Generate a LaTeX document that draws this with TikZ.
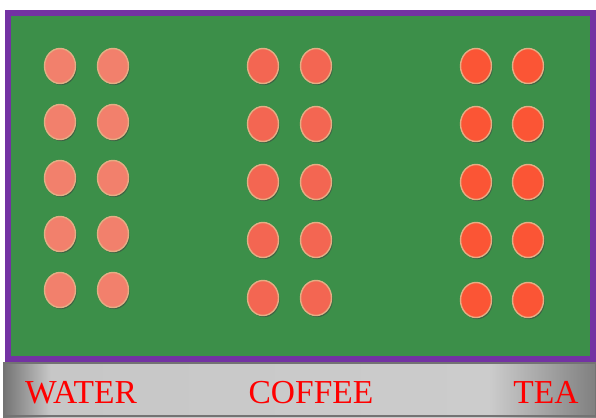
\documentclass[tikz,border=0pt]{standalone}
\usepackage{fontspec}
\setmainfont{Liberation Serif}
\usepackage{xcolor}
\usetikzlibrary{shapes.geometric,shadows}

\definecolor{boardgreen}{HTML}{3C8F49}
\definecolor{framepurple}{HTML}{7332A3}
\definecolor{rimtan}{HTML}{E3AE84}
\definecolor{waterdot}{HTML}{F2806C}
\definecolor{coffeedot}{HTML}{F36652}
\definecolor{teadot}{HTML}{FB5535}

\pgfdeclarehorizontalshading{barshade}{100bp}{
  color(0bp)=(black!55); color(25bp)=(black!55); color(29bp)=(black!22);
  color(66bp)=(black!20); color(75bp)=(black!50); color(100bp)=(black!50)}

\tikzset{
  dot/.style={ellipse,minimum width=31pt,minimum height=35pt,inner sep=0pt,
    draw=rimtan,line width=1.4pt,
    drop shadow={shadow xshift=1.2pt,shadow yshift=-1.6pt,opacity=0.55,fill=black!75}},
  label/.style={anchor=base,text=red,font=\fontsize{33.5}{38}\selectfont}
}

\begin{document}
\begin{tikzpicture}[x=1pt,y=-1pt]
  \useasboundingbox (0,0) rectangle (596,417);
  \fill[white] (0,0) rectangle (596,417);

  % board
  \draw[framepurple,line width=6pt,fill=boardgreen] (8,13) rectangle (593,359);

  % label bar
  \shade[shading=barshade] (3,362) rectangle (596,417);
  \draw[black!55,line width=1.5pt] (4,363) rectangle (596,416);

  % dots
  \foreach \y [count=\i] in {66,122,178,234,290} {
    \node[dot,fill=waterdot] (w\i a) at (60,\y) {};
    \node[dot,fill=waterdot] (w\i b) at (113,\y) {};
  }
  \foreach \y [count=\i] in {66,124,182,240,298} {
    \node[dot,fill=coffeedot] (c\i a) at (263,\y) {};
    \node[dot,fill=coffeedot] (c\i b) at (316,\y) {};
  }
  \foreach \y [count=\i] in {66,124,182,240,300} {
    \node[dot,fill=teadot] (t\i a) at (476,\y) {};
    \node[dot,fill=teadot] (t\i b) at (528,\y) {};
  }

  % labels
  \node[label] (water) at (81,403) {WATER};
  \node[label] (coffee) at (311,403) {COFFEE};
  \node[label] (tea) at (546,403) {TEA};
\end{tikzpicture}
\end{document}
